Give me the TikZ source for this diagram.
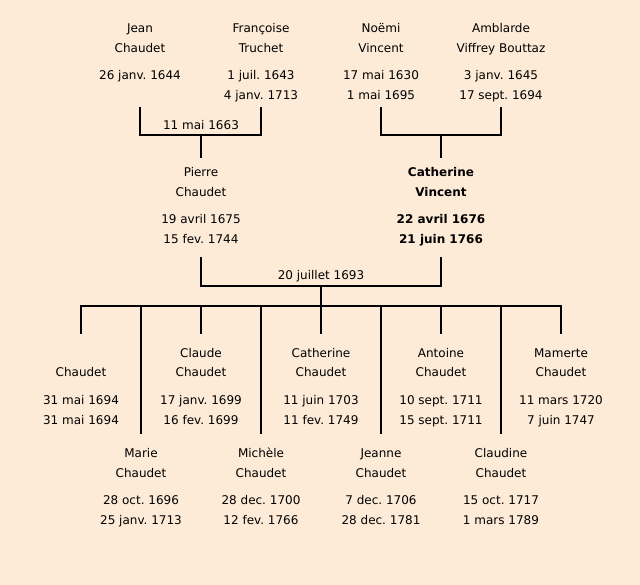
\documentclass[tikz,border=0pt]{standalone}
\usepackage{fontspec}
\setmainfont{DejaVu Sans}
\definecolor{bgc}{RGB}{253,235,215}
\tikzset{
  txt/.style={anchor=base, inner sep=0pt, font=\fontsize{12}{14}\selectfont},
  btxt/.style={txt, font=\fontsize{12}{14}\selectfont\bfseries},
  link/.style={line width=2pt, line cap=rect},
}
\newcommand\pers[8][txt]{%
  \node[#1] (#2a) at (#3,#4) {#5};
  \node[#1] (#2b) at (#3,#4+20) {#6};
  \node[#1] (#2c) at (#3,#4+47) {#7};
  \node[#1] (#2d) at (#3,#4+67) {#8};
}
\begin{document}
\frenchspacing
\begin{tikzpicture}[x=1pt,y=-1pt]
\fill[bgc] (0,0) rectangle (640,585);
\useasboundingbox (0,0) rectangle (640,585);
% generation 1
\pers{jean}{140}{33}{Jean}{Chaudet}{26 janv. 1644}{}
\pers{franc}{261}{33}{Françoise}{Truchet}{1 juil. 1643}{4 janv. 1713}
\pers{noemi}{381}{33}{Noëmi}{Vincent}{17 mai 1630}{1 mai 1695}
\pers{ambl}{501}{33}{Amblarde}{Viffrey Bouttaz}{3 janv. 1645}{17 sept. 1694}
% generation 2
\pers{pierre}{201}{177}{Pierre}{Chaudet}{19 avril 1675}{15 fev. 1744}
\pers[btxt]{cath}{441}{177}{Catherine}{Vincent}{22 avril 1676}{21 juin 1766}
% children row 1
\pers{c1}{81}{357}{}{Chaudet}{31 mai 1694}{31 mai 1694}
\pers{c3}{201}{357}{Claude}{Chaudet}{17 janv. 1699}{16 fev. 1699}
\pers{c5}{321}{357}{Catherine}{Chaudet}{11 juin 1703}{11 fev. 1749}
\pers{c7}{441}{357}{Antoine}{Chaudet}{10 sept. 1711}{15 sept. 1711}
\pers{c9}{561}{357}{Mamerte}{Chaudet}{11 mars 1720}{7 juin 1747}
% children row 2
\pers{c2}{141}{457}{Marie}{Chaudet}{28 oct. 1696}{25 janv. 1713}
\pers{c4}{261}{457}{Michèle}{Chaudet}{28 dec. 1700}{12 fev. 1766}
\pers{c6}{381}{457}{Jeanne}{Chaudet}{7 dec. 1706}{28 dec. 1781}
\pers{c8}{501}{457}{Claudine}{Chaudet}{15 oct. 1717}{1 mars 1789}
% connector coordinates
\coordinate (jeanL) at (140,108);
\coordinate (francL) at (261,108);
\coordinate (m1) at (201,135);
\coordinate (noemiL) at (381,108);
\coordinate (amblL) at (501,108);
\coordinate (m2) at (441,135);
\coordinate (pierreU) at (201,157);
\coordinate (cathU) at (441,157);
\coordinate (pierreL) at (201,258);
\coordinate (cathL) at (441,258);
\coordinate (m3) at (321,286);
\coordinate (bus) at (321,306);
\coordinate (busL) at (81,306);
\coordinate (busR) at (561,306);
% marriage 1
\draw[link] (jeanL) |- (m1) -| (francL);
\draw[link] (m1) -- (pierreU);
\node[txt] (mar1) at (201,130) {11 mai 1663};
% marriage 2
\draw[link] (noemiL) |- (m2) -| (amblL);
\draw[link] (m2) -- (cathU);
% marriage 3
\draw[link] (pierreL) |- (m3) -| (cathL);
\node[txt] (mar3) at (321,280) {20 juillet 1693};
\draw[link] (m3) -- (bus);
\draw[link] (busL) -- (busR);
\foreach \x in {81,201,321,441,561} \draw[link] (\x,306) -- (\x,333);
\foreach \x in {141,261,381,501} \draw[link] (\x,306) -- (\x,433);
\end{tikzpicture}
\end{document}
